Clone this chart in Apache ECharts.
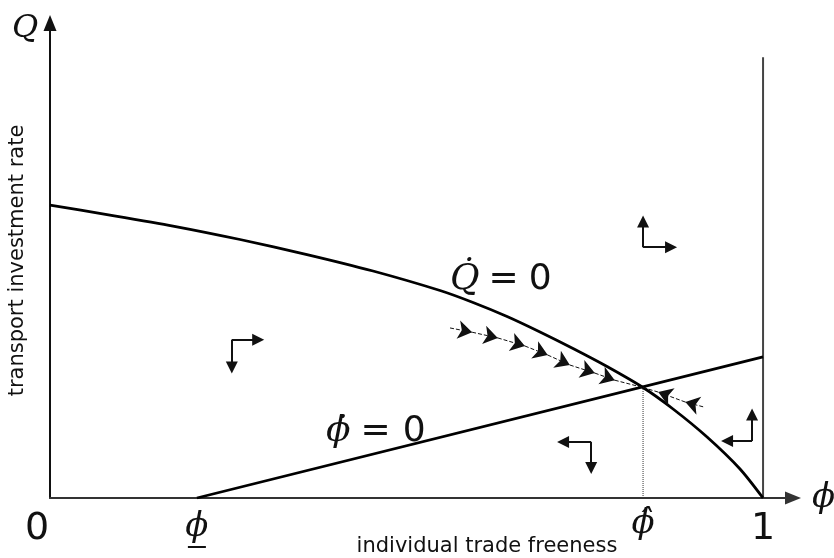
<!DOCTYPE html>
<html>
<head>
<meta charset="utf-8">
<script src="https://cdn.jsdelivr.net/npm/echarts@6/dist/echarts.min.js"></script>
<style>
  html, body { margin: 0; padding: 0; background: #fff; }
  #chart { width: 834px; height: 558px; }
</style>
</head>
<body>
<div id="chart"></div>
<script>
// Q-dot = 0 locus (trade freeness phi, investment rate Q)
const qDotPhi = [0, 0.0799, 0.1725, 0.2665, 0.3604, 0.4530, 0.5470, 0.5933, 0.6410, 0.6872, 0.7335, 0.7812, 0.8317, 0.8738, 0.9215, 0.9677, 1.0];
const qDotQ   = [0.6168, 0.5968, 0.5726, 0.5442, 0.5126, 0.4779, 0.4368, 0.4116, 0.3821, 0.3495, 0.3147, 0.2768, 0.2326, 0.1874, 0.1284, 0.0611, 0];

// phi-dot = 0 locus
const phiDotPhi = [0.206, 1.0];
const phiDotQ   = [0, 0.297];

// steady state
const steadyPhi = 0.8317;
const steadyQ   = 0.2326;

// saddle path, left branch (start -> steady state); arrowheads at inner points
const saddleLeftPhi = [0.561, 0.592, 0.628, 0.666, 0.698, 0.729, 0.764, 0.792, 0.8317];
const saddleLeftQ   = [0.358, 0.349, 0.337, 0.320, 0.301, 0.280, 0.263, 0.248, 0.2326];
// saddle path, right branch (start -> steady state)
const saddleRightPhi = [0.916, 0.891, 0.853, 0.8317];
const saddleRightQ   = [0.192, 0.202, 0.223, 0.2326];

// upper end of the phi = 1 boundary
const boundaryTopQ = 0.928;

// x-axis tick values and their labels
const tickValues = [0, 0.206, 0.8317, 1];
const tickLabels = ['{zero|0}', '{phi|ϕ}\n{ul|}', '{phih|ϕ̂}', '{num|1}'];

// direction-of-motion arrows in each region: corner, end of horizontal arm, end of vertical arm
const phaseCornerPhi = [0.255, 0.759, 0.8317, 0.9846];
const phaseCornerQ   = [0.333, 0.118, 0.528, 0.120];
const phaseHorizEnd  = [0.292, 0.7195, 0.871, 0.9495];
const phaseVertEnd   = [0.275, 0.063, 0.582, 0.176];

const SANS = "'DejaVu Sans', 'Liberation Sans', sans-serif";
const SERIF = "'DejaVu Serif', 'Liberation Serif', serif";

function pairs(xs, ys) { return xs.map((x, i) => [x, ys[i]]); }

function saddleSegments(xs, ys) {
  const out = [];
  for (let i = 0; i < xs.length - 1; i++) {
    const last = i === xs.length - 2;
    out.push({
      coords: [[xs[i], ys[i]], [xs[i + 1], ys[i + 1]]],
      symbol: last ? ['none', 'none'] : ['none', 'arrow']
    });
  }
  return out;
}

const phaseArms = [];
phaseCornerPhi.forEach((cx, i) => {
  const cy = phaseCornerQ[i];
  phaseArms.push({ coords: [[cx, cy], [phaseHorizEnd[i], cy]] });
  phaseArms.push({ coords: [[cx, cy], [cx, phaseVertEnd[i]]] });
});

// rich styles for the locus equations
function eqRich(gapEq, gapZero) {
  return {
    q: { font: 'italic 36px ' + SERIF, fill: '#111' },
    e: { font: '36px ' + SANS, fill: '#111', padding: [0, 0, 0, gapEq] },
    z: { font: '36px ' + SANS, fill: '#111', padding: [0, 0, 0, gapZero] }
  };
}

const chart = echarts.init(document.getElementById('chart'));

chart.setOption({
  animation: false,
  backgroundColor: '#fff',
  grid: { left: 50, right: 41, top: 23, bottom: 60, containLabel: false, outerBoundsMode: 'none' },
  xAxis: {
    type: 'value',
    min: 0,
    max: 1.042,
    splitLine: { show: false },
    axisTick: { show: false },
    axisLine: {
      onZero: false,
      symbol: ['none', 'triangle'],
      symbolSize: [13, 16],
      lineStyle: { color: '#333', width: 2 }
    },
    name: 'ϕ',
    nameLocation: 'end',
    nameGap: 19,
    nameTextStyle: { fontFamily: SERIF, fontStyle: 'italic', fontSize: 34, color: '#111', verticalAlign: 'middle', padding: [8, 0, 0, 0] },
    axisLabel: {
      customValues: tickValues,
      margin: 11,
      color: '#111',
      formatter: function (v) {
        let k = 0, d = Infinity;
        tickValues.forEach((t, i) => { if (Math.abs(t - v) < d) { d = Math.abs(t - v); k = i; } });
        return tickLabels[k];
      },
      rich: {
        num: { fontFamily: SANS, fontSize: 38, color: '#111', lineHeight: 40 },
        zero: { fontFamily: SANS, fontSize: 38, color: '#111', lineHeight: 40, padding: [0, 26, 0, 0] },
        phi: { fontFamily: SERIF, fontStyle: 'italic', fontSize: 34, color: '#111', lineHeight: 36 },
        ul: { width: 18, height: 2, backgroundColor: '#111', lineHeight: 4 },
        phih: { fontFamily: SERIF, fontStyle: 'italic', fontSize: 34, color: '#111', lineHeight: 30 }
      }
    }
  },
  yAxis: {
    type: 'value',
    min: 0,
    max: 1,
    splitLine: { show: false },
    axisTick: { show: false },
    axisLabel: { show: false },
    axisLine: {
      onZero: false,
      symbol: ['none', 'triangle'],
      symbolSize: [13, 16],
      lineStyle: { color: '#111', width: 2 }
    },
    name: 'transport investment rate',
    nameLocation: 'middle',
    nameRotate: 90,
    nameGap: 22,
    nameTextStyle: { fontFamily: SANS, fontSize: 21, color: '#111' }
  },
  series: [
    {
      name: 'Q-dot = 0',
      type: 'line',
      data: pairs(qDotPhi, qDotQ),
      smooth: 0.25,
      showSymbol: false,
      lineStyle: { color: '#000', width: 2.8 },
      z: 3
    },
    {
      name: 'phi-dot = 0',
      type: 'line',
      data: pairs(phiDotPhi, phiDotQ),
      showSymbol: false,
      lineStyle: { color: '#000', width: 2.8 },
      z: 3
    },
    {
      name: 'phi = 1',
      type: 'line',
      data: [[1, 0], [1, boundaryTopQ]],
      showSymbol: false,
      lineStyle: { color: '#444', width: 2 },
      z: 2
    },
    {
      name: 'steady-state drop line',
      type: 'line',
      data: [[steadyPhi, 0], [steadyPhi, steadyQ]],
      showSymbol: false,
      lineStyle: { color: '#333', width: 1, type: 'dotted' },
      z: 2
    },
    {
      name: 'saddle path',
      type: 'lines',
      coordinateSystem: 'cartesian2d',
      symbolSize: [11, 14],
      lineStyle: { color: '#111', width: 1, type: [4, 2], opacity: 1 },
      data: saddleSegments(saddleLeftPhi, saddleLeftQ).concat(saddleSegments(saddleRightPhi, saddleRightQ)),
      z: 4
    },
    {
      name: 'phase arrows',
      type: 'lines',
      coordinateSystem: 'cartesian2d',
      symbol: ['none', 'triangle'],
      symbolSize: [10, 12],
      lineStyle: { color: '#111', width: 2, opacity: 1 },
      data: phaseArms,
      z: 4
    }
  ],
  graphic: [
    { type: 'text', left: 12, top: 13, style: { text: 'Q', font: 'italic 32px ' + SERIF, fill: '#111' } },
    {
      type: 'text', x: 450, y: 280,
      style: { text: '{q|Q̇}{e|=}{z|0}', verticalAlign: 'middle', rich: eqRich(9, 10) }
    },
    {
      type: 'text', x: 326, y: 432,
      style: { text: '{q|ϕ̇}{e|=}{z|0}', verticalAlign: 'middle', rich: eqRich(10, 12) }
    },
    {
      type: 'text', x: 487, y: 547,
      style: { text: 'individual trade freeness', align: 'center', verticalAlign: 'middle', font: '21px ' + SANS, fill: '#111' }
    }
  ]
});
</script>
</body>
</html>
